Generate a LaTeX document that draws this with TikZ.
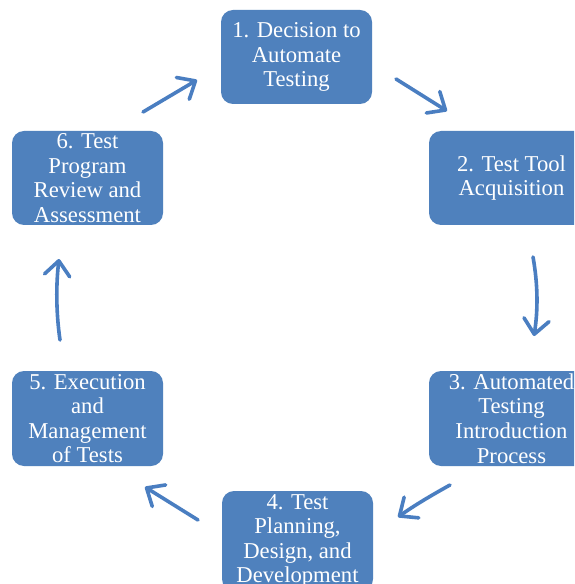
\documentclass[tikz,border=0pt]{standalone}
\usepackage{fontspec}
\setmainfont{Liberation Serif}
\usetikzlibrary{arrows.meta}
\definecolor{boxblue}{HTML}{4F81BD}
\definecolor{arrblue}{HTML}{4A7EC1}
\begin{document}
\begin{tikzpicture}[x=0.75pt,y=-0.75pt,
  stage/.style={fill=boxblue,draw=none,rounded corners=9pt,text=white,
    align=center,inner sep=0pt,
    font=\fontsize{17pt}{18.4pt}\selectfont},
  flow/.style={draw=arrblue,line width=2.7pt,line cap=round,
    -{Straight Barb[length=11pt,width=19pt,line width=2.7pt,round]}}]
\useasboundingbox (0,0) rectangle (574,584);
\clip (0,0) rectangle (574,584);
\fill[white] (0,0) rectangle (574,584);
\node[stage,minimum width=151*0.75pt,minimum height=94*0.75pt] (s1) at (296.5,57)
  {1. Decision to\\Automate\\Testing};
\node[stage,minimum width=165*0.75pt,minimum height=94*0.75pt] (s2) at (511.5,178)
  {2. Test Tool\\Acquisition};
\node[stage,minimum width=165*0.75pt,minimum height=95*0.75pt] (s3) at (511.5,418.5)
  {3. Automated\\Testing\\Introduction\\Process};
\node[stage,minimum width=151*0.75pt,minimum height=100*0.75pt] (s4) at (297.5,541)
  {4. Test\\Planning,\\Design, and\\Development};
\node[stage,minimum width=151*0.75pt,minimum height=95*0.75pt] (s5) at (87.5,418.5)
  {5. Execution\\and\\Management\\of Tests};
\node[stage,minimum width=151*0.75pt,minimum height=94*0.75pt] (s6) at (87.5,178)
  {6. Test\\Program\\Review and\\Assessment};
\coordinate (a1s) at (143,112); \coordinate (a1e) at (197,80);
\coordinate (a2s) at (396,79);  \coordinate (a2e) at (447,111);
\coordinate (a3s) at (533,257); \coordinate (a3e) at (534,336);
\coordinate (a4s) at (450,485); \coordinate (a4e) at (398,517);
\coordinate (a5s) at (198,520); \coordinate (a5e) at (145,487);
\coordinate (a6s) at (60,340);  \coordinate (a6e) at (59,259);
\draw[flow] (a1s) -- (a1e);
\draw[flow] (a2s) -- (a2e);
\draw[flow] (a3s) .. controls (538,285) and (538,310) .. (a3e);
\draw[flow] (a4s) .. controls (432,495) and (415,505) .. (a4e);
\draw[flow] (a5s) -- (a5e);
\draw[flow] (a6s) .. controls (56,312) and (56,285) .. (a6e);
\end{tikzpicture}
\end{document}
